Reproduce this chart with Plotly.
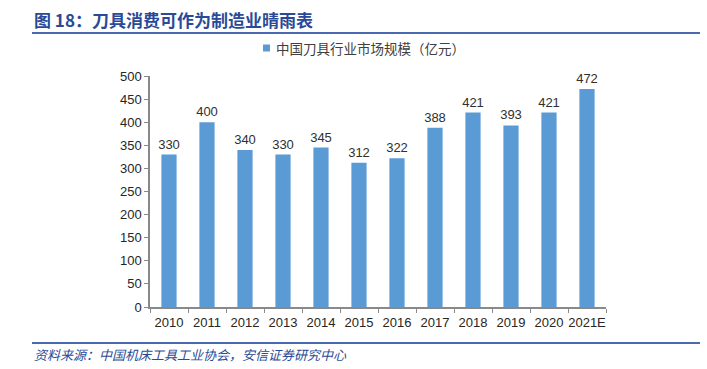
import plotly.graph_objects as go

years = ["2010", "2011", "2012", "2013", "2014", "2015", "2016", "2017", "2018", "2019", "2020", "2021E"]
market_size = [330, 400, 340, 330, 345, 312, 322, 388, 421, 393, 421, 472]
y_ticks = [0, 50, 100, 150, 200, 250, 300, 350, 400, 450, 500]
series_name = "中国刀具行业市场规模（亿元）"
title_text = "图 18：刀具消费可作为制造业晴雨表"
source_text = "资料来源：中国机床工具工业协会，安信证券研究中心"

W, H = 707, 369
L, R, T, B = 150, 101, 76, 62
pw, ph = W - L - R, H - T - B

def px(x):
    return (x - L) / pw

def py(y):
    return (H - B - y) / ph

bar_color = "#5B9BD5"
fig = go.Figure()
fig.add_trace(go.Bar(
    x=years, y=market_size, name=series_name,
    marker=dict(color=bar_color, line=dict(width=0)),
    width=0.40,
    text=[str(v) for v in market_size], textposition="outside",
    constraintext="none",
    textfont=dict(size=13, color="#303030", family="Liberation Sans, Arial"),
    cliponaxis=False, showlegend=False,
))

line_color = "#4A69B0"
fig.update_layout(
    width=W, height=H,
    margin=dict(l=L, r=R, t=T, b=B, autoexpand=False),
    paper_bgcolor="white", plot_bgcolor="white",
    font=dict(family="Liberation Sans, Arial", color="#404040"),
    xaxis=dict(type="category", showline=True, linecolor="#898989", linewidth=1.5,
               ticks="outside", tickson="boundaries", ticklen=4, tickcolor="#898989",
               tickangle=0, automargin=False, ticklabelstandoff=3,
               tickfont=dict(size=13, color="#262626"), showgrid=False, fixedrange=True),
    yaxis=dict(range=[0, 500], tickvals=y_ticks, showline=True, linecolor="#898989", linewidth=1.5,
               ticks="outside", ticklen=4, tickcolor="#898989", automargin=False,
               tickfont=dict(size=13, color="#262626"), showgrid=False, zeroline=False),
    shapes=[
        dict(type="line", xref="paper", yref="paper", x0=px(32), x1=px(700), y0=py(33), y1=py(33),
             line=dict(color=line_color, width=2)),
        dict(type="line", xref="paper", yref="paper", x0=px(32), x1=px(700), y0=py(343), y1=py(343),
             line=dict(color=line_color, width=2)),
        dict(type="rect", xref="paper", yref="paper", x0=px(263), x1=px(270), y0=py(51.5), y1=py(44.5),
             fillcolor=bar_color, line=dict(width=0)),
    ],
    annotations=[
        dict(text="<b>" + title_text + "</b>", xref="paper", yref="paper",
             x=px(32), y=py(19), xanchor="left", yanchor="middle", showarrow=False,
             font=dict(size=17, color="#2A4A97", family="Noto Sans CJK SC")),
        dict(text=series_name, xref="paper", yref="paper",
             x=px(274), y=py(48), xanchor="left", yanchor="middle", showarrow=False,
             font=dict(size=13.5, color="#404040", family="Noto Sans CJK SC")),
        dict(text="<i>" + source_text + "</i>", xref="paper", yref="paper",
             x=px(32), y=py(354), xanchor="left", yanchor="middle", showarrow=False,
             font=dict(size=13, color="#2A4A97", family="Noto Sans CJK SC")),
    ],
)

fig.write_html("out.html", config={"displayModeBar": False},
               post_script="document.body.style.margin='0';document.body.style.padding='0';")
